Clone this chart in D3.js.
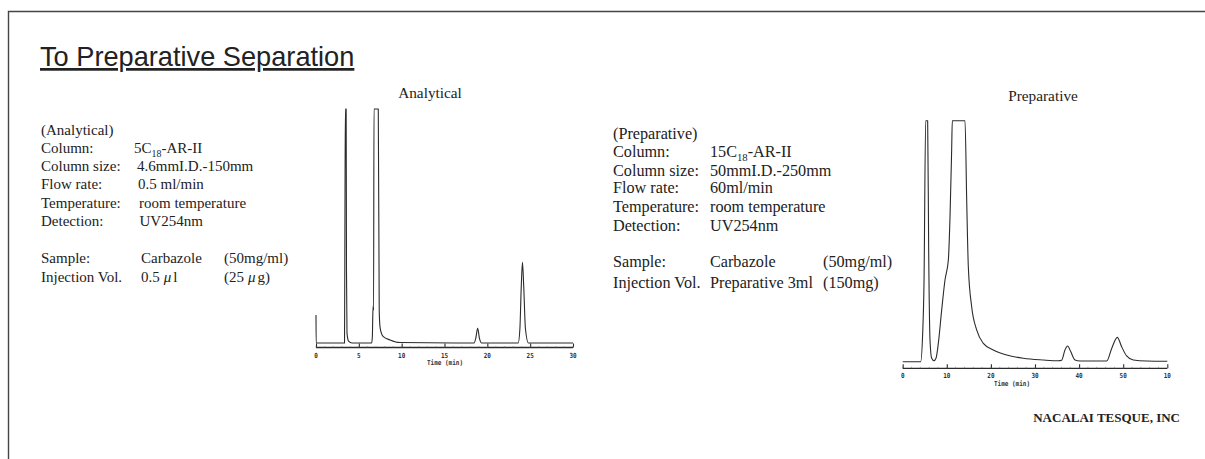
<!DOCTYPE html>
<html>
<head>
<meta charset="utf-8">
<script src="https://cdn.jsdelivr.net/npm/d3@7"></script>
<style>
  html, body { margin: 0; padding: 0; background: #fff; }
  svg { display: block; }
</style>
</head>
<body>
<svg id="chart" width="1205" height="459"></svg>
<script>
// ---------------- DATA ----------------
const pageTitle = "To Preparative Separation";
const analyticalTitle = "Analytical";
const preparativeTitle = "Preparative";
const footerText = "NACALAI TESQUE, INC";
const axisTitle = "Time (min)";

// Analytical chromatogram: [time (min), signal (% of full scale, clipped at 100)]
const analyticalPoints = [
  [0, 12], [0.02, 0], [3.33, 0], [3.38, 55], [3.43, 100], [3.52, 100], [3.56, 30],
  [3.62, 4.1], [3.8, 0.8], [4.2, 0], [6.5, 0], [6.58, 3], [6.63, 12], [6.68, 16],
  [6.72, 14], [6.77, 100], [7.27, 100], [7.38, 14], [7.47, 7], [7.65, 4], [7.86, 2.7],
  [8.64, 1.3], [9.8, 0.2], [18.45, 0], [18.65, 2], [18.87, 6.3], [19.08, 2], [19.35, 0],
  [23.6, 0], [23.8, 6], [23.96, 24], [24.1, 34.5], [24.25, 24], [24.45, 6], [24.8, 0],
  [30, 0]
];
const analyticalDomain = [0, 30];
const analyticalTicks = [0, 5, 10, 15, 20, 25, 30];
const analyticalTickLabels = ["0", "5", "10", "15", "20", "25", "30"];

// Preparative chromatogram: [time (min), signal (% of full scale, clipped at 100)]
const preparativePoints = [
  [0, 0], [4.07, 0], [4.53, 11.8], [4.83, 32.5], [5.21, 100], [5.66, 100], [5.89, 46.3],
  [6.19, 9], [6.57, 1.4], [7.1, 0.4], [7.55, 1.4], [8.08, 7.6], [8.84, 21.5], [9.59, 33.9],
  [10.35, 42.2], [10.73, 60.2], [11.1, 87.8], [11.25, 100], [14.13, 100], [14.51, 67.1],
  [14.88, 39.4], [15.64, 22.8], [16.77, 13.2], [18.28, 7.6], [20.55, 4.9], [23.58, 2.8],
  [27.35, 1.4], [31.9, 0.7], [35.3, 0.4], [36.05, 0.6], [36.8, 4.9], [37.4, 6.5],
  [38.09, 4.2], [39.07, 0.7], [40.2, 0.3], [46.26, 0.3], [47.39, 5.5], [48.66, 10.1],
  [49.65, 6.2], [50.78, 2.4], [52.3, 0.7], [55.3, 0.3], [60, 0.2]
];
const preparativeDomain = [0, 60];
const preparativeTicks = [0, 10, 20, 30, 40, 50, 60];
const preparativeTickLabels = ["0", "10", "20", "30", "40", "50", "10"];

// Condition tables
const analyticalHeader = "(Analytical)";
const analyticalLabels = ["Column:", "Column size:", "Flow rate:", "Temperature:", "Detection:"];
const analyticalColumn = ["5C", "18", "-AR-II"];
const analyticalValues = ["4.6mmI.D.-150mm", "0.5 ml/min", "room temperature", "UV254nm"];
const analyticalSample = ["Sample:", "Carbazole", "(50mg/ml)"];
const analyticalInjection = ["Injection Vol.", ["0.5", "\u03bc", "l"], ["(25", "\u03bc", "g)"]];

const preparativeHeader = "(Preparative)";
const preparativeLabels = ["Column:", "Column size:", "Flow rate:", "Temperature:", "Detection:"];
const preparativeColumn = ["15C", "18", "-AR-II"];
const preparativeValues = ["50mmI.D.-250mm", "60ml/min", "room temperature", "UV254nm"];
const preparativeSample = ["Sample:", "Carbazole", "(50mg/ml)"];
const preparativeInjection = ["Injection Vol.", "Preparative 3ml", "(150mg)"];

// ---------------- DRAW ----------------
const svg = d3.select("#chart");
const ink = "#2b2b2b";
const serif = "'Liberation Serif', 'Times New Roman', serif";
const mono = "'DejaVu Sans Mono', 'Liberation Mono', monospace";

// frame (top + left)
svg.append("path")
  .attr("d", "M8.5,459 V11.5 H1205")
  .attr("fill", "none").attr("stroke", "#444").attr("stroke-width", 1.4);

// page title
svg.append("text")
  .attr("x", 40).attr("y", 66)
  .attr("font-family", "'Liberation Sans', Arial, sans-serif")
  .attr("font-size", 27.2)
  .attr("fill", "#222")
  .attr("text-decoration", "underline")
  .text(pageTitle);

// ---------- condition tables ----------
function table(cfg) {
  const g = svg.append("g")
    .attr("font-family", serif).attr("font-size", cfg.fs).attr("fill", "#222");
  g.append("text").attr("x", cfg.lx).attr("y", cfg.rows[0]).text(cfg.header);
  cfg.labels.forEach((l, i) => {
    g.append("text").attr("x", cfg.lx).attr("y", cfg.rows[i + 1]).text(l);
  });
  const c = g.append("text").attr("x", cfg.vx[0]).attr("y", cfg.rows[1]);
  c.append("tspan").text(cfg.column[0]);
  c.append("tspan").attr("font-size", cfg.fs * 0.66).attr("dy", 4).text(cfg.column[1]);
  c.append("tspan").attr("dy", -4).text(cfg.column[2]);
  cfg.values.forEach((v, i) => {
    g.append("text").attr("x", cfg.vx[i + 1]).attr("y", cfg.rows[i + 2]).text(v);
  });
  g.append("text").attr("x", cfg.lx).attr("y", cfg.rows[6]).text(cfg.sample[0]);
  g.append("text").attr("x", cfg.sx).attr("y", cfg.rows[6]).text(cfg.sample[1]);
  g.append("text").attr("x", cfg.tx).attr("y", cfg.rows[6]).text(cfg.sample[2]);
  g.append("text").attr("x", cfg.lx).attr("y", cfg.rows[7]).text(cfg.injection[0]);
  [[cfg.sx, cfg.injection[1]], [cfg.tx, cfg.injection[2]]].forEach(([x, v]) => {
    const t = g.append("text").attr("x", x).attr("y", cfg.rows[7]);
    if (Array.isArray(v)) {
      t.append("tspan").text(v[0]);
      t.append("tspan").attr("dx", 4).attr("font-style", "italic").text(v[1]);
      t.append("tspan").attr("dx", 2).text(v[2]);
    } else {
      t.text(v);
    }
  });
}

table({
  fs: 15, lx: 41,
  rows: [135, 153.3, 171, 189.3, 208, 226, 263.3, 281.7],
  vx: [134, 137, 138, 139, 139.5],
  sx: 141, tx: 224,
  header: analyticalHeader, labels: analyticalLabels, column: analyticalColumn,
  values: analyticalValues, sample: analyticalSample, injection: analyticalInjection
});

table({
  fs: 16.2, lx: 613,
  rows: [139, 157.2, 175.5, 193.2, 212, 230.5, 267, 288.2],
  vx: [710, 710, 710, 710, 710],
  sx: 710, tx: 823,
  header: preparativeHeader, labels: preparativeLabels, column: preparativeColumn,
  values: preparativeValues, sample: preparativeSample, injection: preparativeInjection
});

// ---------- chromatograms ----------
function chromatogram(cfg) {
  const x = d3.scaleLinear().domain(cfg.domain).range(cfg.xr);
  const y = d3.scaleLinear().domain([0, 100]).range(cfg.yr);

  svg.append("text")
    .attr("x", cfg.titleX).attr("y", cfg.titleY)
    .attr("text-anchor", "middle")
    .attr("font-family", serif).attr("font-size", 15.3).attr("fill", "#222")
    .text(cfg.title);

  const line = d3.line()
    .x(d => x(d[0])).y(d => y(d[1]))
    .curve(d3.curveMonotoneX);
  svg.append("path")
    .datum(cfg.points)
    .attr("d", line)
    .attr("fill", "none").attr("stroke", ink).attr("stroke-width", 1.1)
    .attr("stroke-linejoin", "round");

  const axis = d3.axisTop(x)
    .tickValues(cfg.ticks)
    .tickSize(4)
    .tickPadding(0)
    .tickFormat(() => "");
  const ag = svg.append("g")
    .attr("transform", `translate(0,${cfg.axisY})`)
    .call(axis);
  ag.select(".domain").attr("stroke", ink).attr("stroke-width", 1.3)
    .attr("d", `M${cfg.xr[0]},0H${cfg.xr[1]}`);
  ag.selectAll(".tick line").attr("stroke", ink).attr("stroke-width", 1.1);

  const minor = d3.range(cfg.domain[0], cfg.domain[1] + 0.001, cfg.minorStep);
  svg.append("g").selectAll("line").data(minor).join("line")
    .attr("x1", d => x(d)).attr("x2", d => x(d))
    .attr("y1", cfg.axisY).attr("y2", cfg.axisY - 1.5)
    .attr("stroke", "#777").attr("stroke-width", 0.6);

  svg.append("g").selectAll("text").data(cfg.ticks).join("text")
    .attr("x", d => x(d)).attr("y", cfg.axisY + 10)
    .attr("text-anchor", "middle")
    .attr("font-family", mono).attr("font-size", 7).attr("font-weight", "bold")
    .attr("fill", "#333")
    .attr("textLength", (d, i) => cfg.labels[i].length * 3.6)
    .attr("lengthAdjust", "spacingAndGlyphs")
    .text((d, i) => cfg.labels[i]);

  svg.append("text")
    .attr("x", cfg.axisTitleX).attr("y", cfg.axisY + 17.5)
    .attr("text-anchor", "middle")
    .attr("font-family", mono).attr("font-size", 7).attr("font-weight", "bold")
    .attr("fill", "#333")
    .attr("textLength", 36).attr("lengthAdjust", "spacingAndGlyphs")
    .text(axisTitle);
}

chromatogram({
  title: analyticalTitle, titleX: 430, titleY: 97.5,
  domain: analyticalDomain, xr: [316, 573], yr: [343, 109],
  points: analyticalPoints, ticks: analyticalTicks, labels: analyticalTickLabels,
  axisY: 347.5, axisTitleX: 445, minorStep: 1
});

chromatogram({
  title: preparativeTitle, titleX: 1043, titleY: 100.5,
  domain: preparativeDomain, xr: [902.7, 1167.3], yr: [361.7, 120.7],
  points: preparativePoints, ticks: preparativeTicks, labels: preparativeTickLabels,
  axisY: 368.3, axisTitleX: 1012, minorStep: 2
});

// footer
svg.append("text")
  .attr("x", 1180).attr("y", 422)
  .attr("text-anchor", "end")
  .attr("font-family", serif).attr("font-size", 13).attr("font-weight", "bold")
  .attr("fill", "#222")
  .text(footerText);
</script>
</body>
</html>
